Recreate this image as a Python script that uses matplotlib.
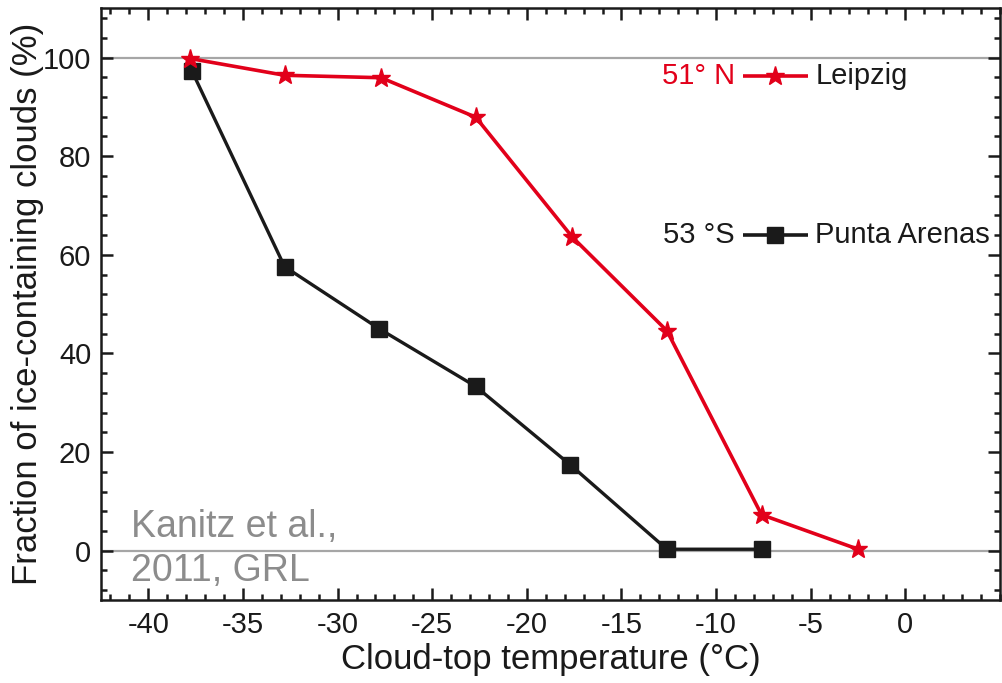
import numpy as np
import matplotlib
matplotlib.use("Agg")
from matplotlib import pyplot as plt
from matplotlib.ticker import MultipleLocator, FixedLocator

plt.rcParams['font.family'] = ['Liberation Sans', 'DejaVu Sans']
plt.rcParams['axes.unicode_minus'] = False

# values
temp_leipzig = [-37.8, -32.8, -27.7, -22.7, -17.6, -12.6, -7.6, -2.5]
frac_leipzig = [99.8, 96.4, 95.9, 87.9, 63.6, 44.6, 7.3, 0.3]
temp_punta = [-37.7, -32.8, -27.8, -22.7, -17.7, -12.6, -7.6]
frac_punta = [97.3, 57.6, 45.0, 33.3, 17.4, 0.3, 0.3]
xticks = [-40, -35, -30, -25, -20, -15, -10, -5, 0]

red = '#e2001a'
blk = '#1a1a1a'
grey = '#8c8c8c'

fig = plt.figure(figsize=(10.02, 6.83), dpi=100)
ax = fig.add_axes([0.1008, 0.1215, 0.8972, 0.8665])

ax.axhline(0, color='#a6a6a6', lw=1.6, zorder=1)
ax.axhline(100, color='#a6a6a6', lw=1.6, zorder=1)

ax.plot(temp_punta, frac_punta, color=blk, lw=2.4, marker='s', ms=11, zorder=3)
ax.plot(temp_leipzig, frac_leipzig, color=red, lw=2.6, marker='*', ms=14, zorder=4)

ax.set_xlim(-42.5, 5)
ax.set_ylim(-10, 110)
ax.xaxis.set_major_locator(FixedLocator(xticks))
ax.xaxis.set_minor_locator(MultipleLocator(1))
ax.yaxis.set_major_locator(MultipleLocator(20))
ax.yaxis.set_minor_locator(MultipleLocator(4))
ax.tick_params(which='both', direction='in', top=True, right=True, width=1.8, color=blk)
ax.tick_params(which='major', length=8.5, labelsize=21, pad=7, labelcolor=blk)
ax.tick_params(which='minor', length=4.5)
ax.tick_params(axis='x', which='major', pad=8)
for s in ax.spines.values():
    s.set_linewidth(1.8)
    s.set_color(blk)

ax.set_xlabel('Cloud-top temperature (°C)', fontsize=25, labelpad=3, color=blk)
ax.set_ylabel('Fraction of ice-containing clouds (%)', fontsize=25, labelpad=-1, color=blk)

# hand-made legend
def key(y, label, lat, col, mk):
    ax.text(-9.0, y, lat, color=col, fontsize=21, ha='right', va='center')
    ax.plot([-8.6, -5.15], [y, y], color=col, lw=2.6, solid_capstyle='butt')
    ax.plot([-6.9], [y], color=col, marker=mk, ms=14 if mk == '*' else 11, ls='none')
    ax.text(-4.75, y, label, color=blk, fontsize=21, ha='left', va='center')

key(96.2, 'Leipzig', '51° N', red, '*')
key(64.0, 'Punta Arenas', '53 °S', blk, 's')

ax.text(-40.9, 4.9, 'Kanitz et al.,', color=grey, fontsize=27, ha='left', va='center')
ax.text(-40.9, -4.1, '2011, GRL', color=grey, fontsize=27, ha='left', va='center')

fig.savefig('out.png', dpi=100)
